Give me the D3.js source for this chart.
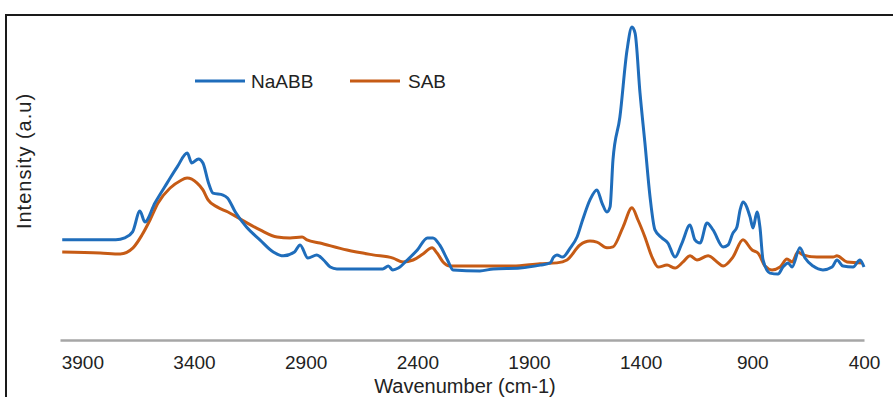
<!DOCTYPE html>
<html>
<head>
<meta charset="utf-8">
<script src="https://cdn.jsdelivr.net/npm/d3@7"></script>
<style>
  html, body { margin: 0; padding: 0; background: #fff; }
  svg { display: block; }
  text { font-family: "Liberation Sans", Arial, sans-serif; fill: #222; }
</style>
</head>
<body>
<div id="chart"></div>
<script>
// FTIR spectra: wavenumber (cm-1) and relative intensity (a.u)
const naabbWavenumber = [3990, 3750, 3710, 3675, 3642, 3620, 3575, 3520, 3475, 3430, 3410, 3380, 3360, 3335, 3315, 3270, 3250, 3215, 3165, 3105, 3045, 3000, 2950, 2925, 2890, 2850, 2820, 2790, 2760, 2555, 2530, 2510, 2485, 2445, 2400, 2355, 2330, 2300, 2265, 2240, 2120, 2060, 1940, 1850, 1805, 1790, 1775, 1750, 1715, 1685, 1660, 1627, 1596, 1573, 1551, 1537, 1524, 1493, 1461, 1439, 1425, 1403, 1381, 1358, 1336, 1305, 1278, 1246, 1215, 1179, 1157, 1134, 1103, 1076, 1031, 1009, 987, 969, 955, 942, 910, 897, 879, 866, 852, 821, 785, 763, 740, 722, 687, 664, 628, 584, 543, 521, 494, 449, 418, 400];
const naabbIntensity = [31.3, 31.3, 31.9, 33.8, 40.3, 36.9, 42.8, 49.1, 54.1, 58.4, 55.3, 56.6, 55.3, 49.1, 45.9, 45.3, 44.4, 40.0, 35.3, 31.3, 27.5, 26.3, 27.5, 29.7, 25.6, 26.6, 25.0, 22.8, 22.2, 22.2, 23.1, 21.9, 22.5, 25.0, 28.1, 31.9, 31.9, 29.7, 25.0, 21.9, 21.6, 22.2, 22.5, 23.4, 24.1, 25.9, 26.6, 25.9, 28.8, 32.2, 37.5, 43.8, 46.9, 42.8, 40.0, 41.6, 56.3, 69.7, 90.6, 97.8, 95.9, 77.2, 61.6, 44.7, 34.4, 31.9, 30.3, 25.9, 30.3, 35.9, 31.3, 30.3, 36.6, 34.4, 29.1, 29.7, 33.4, 35.3, 40.6, 43.1, 38.4, 35.0, 40.0, 35.3, 25.0, 20.9, 20.6, 22.8, 24.1, 22.8, 28.8, 25.6, 23.1, 21.9, 22.8, 25.0, 23.1, 22.8, 25.0, 22.8];

const sabWavenumber = [3990, 3820, 3730, 3673, 3633, 3597, 3561, 3507, 3463, 3431, 3387, 3360, 3337, 3297, 3248, 3207, 3163, 3104, 3028, 2970, 2916, 2894, 2836, 2715, 2599, 2509, 2464, 2419, 2375, 2334, 2312, 2285, 2254, 1972, 1851, 1775, 1730, 1672, 1627, 1596, 1551, 1524, 1479, 1439, 1412, 1381, 1349, 1322, 1282, 1246, 1210, 1179, 1148, 1098, 1058, 1031, 987, 942, 901, 875, 843, 812, 776, 745, 722, 696, 673, 611, 539, 521, 476, 405];
const sabIntensity = [27.5, 27.2, 26.9, 28.8, 32.8, 37.5, 42.8, 47.5, 49.7, 50.6, 49.1, 46.9, 43.8, 41.6, 40.0, 38.4, 36.6, 34.4, 32.2, 31.9, 32.2, 31.3, 30.3, 28.1, 26.6, 25.6, 24.4, 25.0, 26.9, 28.8, 27.2, 24.4, 23.1, 23.1, 23.8, 24.1, 25.0, 29.7, 30.9, 30.6, 28.8, 29.1, 35.3, 41.3, 37.5, 32.2, 25.9, 22.8, 23.4, 22.5, 24.4, 26.3, 25.0, 26.3, 24.4, 23.1, 25.9, 31.3, 28.1, 27.2, 23.1, 21.9, 22.8, 25.3, 24.4, 27.5, 26.6, 25.9, 25.9, 26.3, 24.4, 24.1];

const tickLabels = [3900, 3400, 2900, 2400, 1900, 1400, 900, 400];
const seriesNames = ["NaABB", "SAB"];
const seriesColors = ["#1f6dbb", "#c65b15"];

const width = 893, height = 397;
const svg = d3.select("#chart").append("svg")
  .attr("width", width).attr("height", height);

// outer chart frame (runs past the right and bottom edges)
svg.append("rect")
  .attr("x", 6).attr("y", 15)
  .attr("width", 900).attr("height", 400)
  .attr("fill", "none").attr("stroke", "#1a1a1a").attr("stroke-width", 2);

const x = d3.scaleLinear().domain([4000, 400]).range([60, 864]);
const y = d3.scaleLinear().domain([0, 100]).range([340, 20]);

// x axis: plain grey baseline with wavenumber labels
const xAxis = svg.append("g")
  .attr("transform", "translate(0,340)")
  .call(d3.axisBottom(x).tickValues(tickLabels).tickSize(0).tickPadding(16).tickFormat(d3.format("d")));
xAxis.select(".domain").attr("stroke", "#a6a6a6").attr("stroke-width", 2.5);
xAxis.selectAll(".tick text")
  .attr("font-size", 19).attr("fill", "#222")
  .style("font-family", "'Liberation Sans', Arial, sans-serif");

svg.append("text")
  .attr("x", 465).attr("y", 392.5)
  .attr("text-anchor", "middle").attr("font-size", 20)
  .text("Wavenumber (cm-1)");

svg.append("text")
  .attr("transform", "translate(31,161) rotate(-90)")
  .attr("text-anchor", "middle").attr("font-size", 20)
  .attr("letter-spacing", 1)
  .text("Intensity (a.u)");

const line = d3.line()
  .x(d => x(d[0])).y(d => y(d[1]))
  .curve(d3.curveMonotoneX);

const series = [
  d3.zip(naabbWavenumber, naabbIntensity),
  d3.zip(sabWavenumber, sabIntensity)
];

// draw SAB first, NaABB on top
[1, 0].forEach(i => {
  svg.append("path")
    .datum(series[i])
    .attr("d", line)
    .attr("fill", "none")
    .attr("stroke", seriesColors[i])
    .attr("stroke-width", 3)
    .attr("stroke-linejoin", "round");
});

// legend
const legendPos = [[195, 251], [350, 408]];
seriesNames.forEach((name, i) => {
  const [lx, tx] = legendPos[i];
  svg.append("line")
    .attr("x1", lx).attr("x2", lx + 50)
    .attr("y1", 81).attr("y2", 81)
    .attr("stroke", seriesColors[i]).attr("stroke-width", 3);
  svg.append("text")
    .attr("x", tx).attr("y", 88)
    .attr("font-size", 19)
    .text(name);
});
</script>
</body>
</html>
